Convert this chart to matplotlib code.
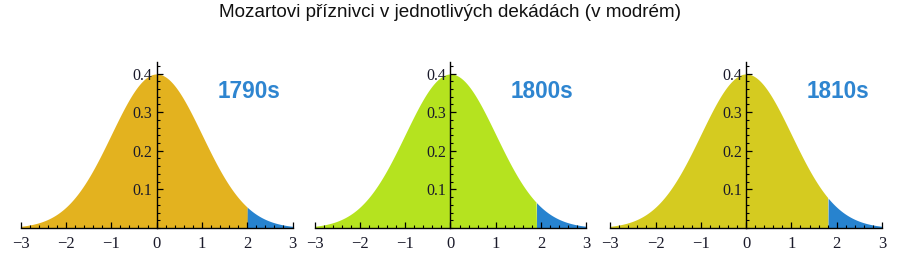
import numpy as np
import matplotlib
matplotlib.use("Agg")
import matplotlib.pyplot as plt
from matplotlib.ticker import MultipleLocator

# decades and where the blue tail (Mozart fans) starts, in standard deviations
decades = ["1790s", "1800s", "1810s"]
cutoffs = [2.0, 1.9, 1.8]
fill_colors = ["#E3B21F", "#B5E31F", "#D5CB20"]
tail_color = "#2783CF"
label_color = "#2E85D0"

title = "Mozartovi příznivci v jednotlivých dekádách (v modrém)"

# axes placement (figure fractions)
lefts = [0.023, 0.3495, 0.678]
width = 0.302
bottom = 0.146
height = 0.622

fig = plt.figure(figsize=(9, 2.67), dpi=100)
fig.text(0.5, 0.952, title, ha="center", va="center", fontsize=13.6,
         family="Liberation Sans", color="#111111")

x = np.linspace(-3, 3, 601)
pdf = np.exp(-x**2 / 2) / np.sqrt(2 * np.pi)

for left, dec, cut, col in zip(lefts, decades, cutoffs, fill_colors):
    ax = fig.add_axes([left, bottom, width, height])
    ax.fill_between(x, 0, pdf, where=x <= cut, color=col, lw=0, interpolate=True)
    ax.fill_between(x, 0, pdf, where=x >= cut, color=tail_color, lw=0, interpolate=True)
    ax.set_xlim(-3, 3)
    ax.set_ylim(0, 0.43)

    ax.spines["left"].set_position(("data", 0))
    ax.spines["bottom"].set_position(("data", 0))
    ax.spines["top"].set_visible(False)
    ax.spines["right"].set_visible(False)
    for s in ("left", "bottom"):
        ax.spines[s].set_linewidth(1.0)
        ax.spines[s].set_color("black")
        ax.spines[s].set_zorder(5)

    ax.set_xticks([-3, -2, -1, 0, 1, 2, 3])
    ax.set_xticklabels(["\u22123", "\u22122", "\u22121", "0", "1", "2", "3"])
    ax.xaxis.set_minor_locator(MultipleLocator(0.2))
    ax.set_yticks([0.1, 0.2, 0.3, 0.4])
    ax.set_yticklabels(["0.1", "0.2", "0.3", "0.4"])
    ax.yaxis.set_minor_locator(MultipleLocator(0.02))

    ax.tick_params(axis="x", which="major", direction="in", length=4, width=0.9,
                   pad=5.5, labelsize=12)
    ax.tick_params(axis="x", which="minor", direction="in", length=2.5, width=0.8)
    ax.tick_params(axis="y", which="major", direction="in", length=4, width=0.9,
                   pad=3, labelsize=11.5)
    ax.tick_params(axis="y", which="minor", direction="in", length=2.5, width=0.8)
    for lab in ax.get_xticklabels() + ax.get_yticklabels():
        lab.set_family("Liberation Serif")
        lab.set_color("#1a1a2a")
    ax.patch.set_visible(False)

    ax.text(2.03, 0.353, dec, ha="center", va="center", fontsize=16.3,
            fontweight="bold", family="Liberation Sans", color=label_color)

fig.savefig("out.png", dpi=100)
